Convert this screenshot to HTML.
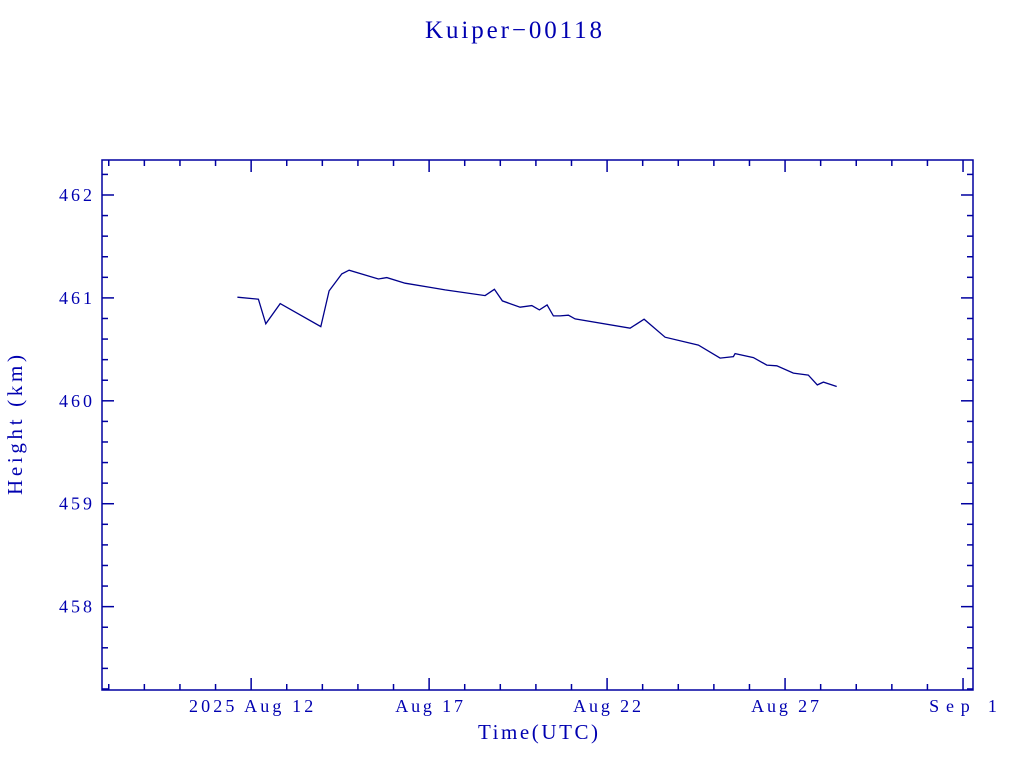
<!DOCTYPE html>
<html><head><meta charset="utf-8"><style>
body{margin:0;background:#fff;}
svg text{font-family:"Liberation Serif","DejaVu Serif",serif;fill:#0000b0;}
</style></head><body>
<svg id="chart" width="1024" height="768" xmlns="http://www.w3.org/2000/svg">
<text x="425" y="38" font-size="25" textLength="177" lengthAdjust="spacing">Kuiper−00118</text>
<rect x="102" y="160" width="871" height="530" fill="none" stroke="#0000a0" stroke-width="1.5"/>
<g id="ticks"></g>
<g id="labels"></g>
<path id="series" fill="none" stroke="#00008b" stroke-width="1.3"/>
<text x="478" y="739" font-size="21" textLength="120" lengthAdjust="spacing">Time(UTC)</text>
<text transform="translate(22,495) rotate(-90)" font-size="21" textLength="140" lengthAdjust="spacing">Height (km)</text>
</svg>
<script>
// days of August 2025 (UTC)
const times=[11.615,12.205,12.413,12.815,13.958,14.191,14.548,14.753,15.576,15.812,16.326,17.076,17.449,18.573,18.834,19.059,19.556,19.885,20.098,20.315,20.492,20.680,20.913,21.101,22.646,23.039,23.629,24.565,25.174,25.548,25.596,26.110,26.486,26.767,27.233,27.654,27.907,28.076,28.452];
const heights=[461.007,460.987,460.748,460.945,460.721,461.068,461.233,461.269,461.184,461.197,461.143,461.100,461.078,461.022,461.084,460.971,460.910,460.925,460.883,460.932,460.825,460.825,460.832,460.796,460.706,460.793,460.618,460.541,460.415,460.430,460.459,460.420,460.347,460.340,460.269,460.250,460.155,460.182,460.139];
const xTickDays=[12,17,22,27,32];
const xTickLabels=["2025 Aug 12","Aug 17","Aug 22","Aug 27","Sep  1"];
const yTicks=[458,459,460,461,462];
const xMin=7.81,xMax=32.28,yMin=457.19,yMax=462.34;
const L=102,R=973,T=160,B=690;
const sx=d=>L+(d-xMin)/(xMax-xMin)*(R-L);
const sy=v=>B-(v-yMin)/(yMax-yMin)*(B-T);
const NS="http://www.w3.org/2000/svg";
const tg=document.getElementById('ticks'),lg=document.getElementById('labels');
function line(x1,y1,x2,y2){const l=document.createElementNS(NS,'line');
l.setAttribute('x1',x1);l.setAttribute('y1',y1);l.setAttribute('x2',x2);l.setAttribute('y2',y2);
l.setAttribute('stroke','#0000a0');l.setAttribute('stroke-width','1.5');


tg.appendChild(l);}
for(let d=Math.ceil(xMin);d<=xMax;d++){const x=sx(d);const len=xTickDays.includes(d)?12:6;line(x,B,x,B-len);line(x,T,x,T+len);}
for(let v=Math.ceil(yMin*5)/5;v<=yMax+1e-9;v+=0.2){const y=sy(v);const len=Math.abs(v-Math.round(v))<1e-6?12:6;line(L,y,L+len,y);line(R,y,R-len,y);}
xTickDays.forEach((d,i)=>{const t=document.createElementNS(NS,'text');
const s=xTickLabels[i];const w=s.length*11.3;
t.setAttribute('x',sx(d)-w/2);t.setAttribute('y',712);t.setAttribute('font-size','18');
t.setAttribute('textLength',w);t.setAttribute('lengthAdjust','spacing');
t.setAttribute('xml:space','preserve');t.textContent=s;


lg.appendChild(t);});
yTicks.forEach(v=>{const t=document.createElementNS(NS,'text');t.setAttribute('x',59);t.setAttribute('y',sy(v)+6);t.setAttribute('font-size','18');t.setAttribute('textLength','33');t.setAttribute('lengthAdjust','spacing');t.textContent=v;


lg.appendChild(t);});
document.getElementById('series').setAttribute('d',times.map((d,i)=>(i?'L':'M')+sx(d).toFixed(1)+' '+sy(heights[i]).toFixed(1)).join(' '));
</script>
</body></html>
